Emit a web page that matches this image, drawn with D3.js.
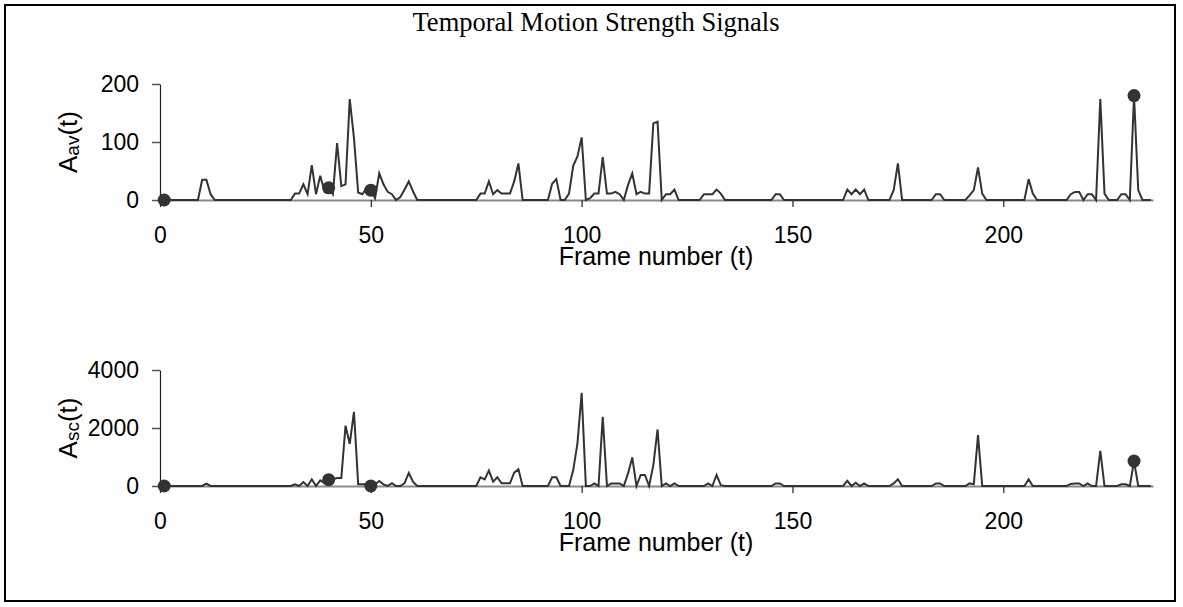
<!DOCTYPE html>
<html>
<head>
<meta charset="utf-8">
<script src="https://cdn.jsdelivr.net/npm/d3@7"></script>
<style>
  html, body { margin: 0; padding: 0; background: #fff; }
  svg { display: block; }
</style>
</head>
<body>
<svg id="chart" width="1183" height="607"></svg>
<script>
// ---- data (frames 1..235) ----
const frames = d3.range(1, 236);

const avValues = [
  0,0,0,0,0,0,0,0,0,
  35,35,10,
  0,0,0,0,0,0,0,0,0,0,0,0,0,0,0,0,0,0,0,
  11,11,27,10,60,10,42,15,21,10,98,24,27,174,107,13,10,21,17,3,46,27,14,10,0,5,18,32,15,
  0,0,0,0,0,0,0,0,0,0,0,0,0,0,0,
  11,11,32,10,17,11,11,11,32,63,
  0,0,0,0,0,0,0,
  28,36,0,0,11,59,75,108,0,3,11,11,74,11,11,14,10,0,26,46,10,14,11,11,132,135,0,10,10,18,
  0,0,0,0,0,0,
  10,10,10,18,11,
  0,0,0,0,0,0,0,0,0,0,0,0,
  10,10,
  0,0,0,0,0,0,0,0,0,0,0,0,0,0,0,
  18,10,18,10,18,
  0,0,0,0,0,0,
  17,63,
  0,0,0,0,0,0,0,0,
  10,10,
  0,0,0,0,0,0,
  8,17,56,11,
  0,0,0,0,0,0,0,0,0,0,
  36,11,
  0,0,0,0,0,0,0,0,
  10,14,14,0,10,10,0,174,11,0,0,0,10,10,0,180,17,0,0,0
];

const scValues = [
  0,0,0,0,0,0,0,0,0,0,
  80,
  0,0,0,0,0,0,0,0,0,0,0,0,0,0,0,0,0,0,0,0,
  57,0,137,0,230,0,194,100,217,230,274,274,2080,1450,2560,57,57,57,0,57,170,57,0,100,0,0,100,450,150,
  0,0,0,0,0,0,0,0,0,0,0,0,0,0,0,
  300,230,530,150,300,92,92,92,460,575,
  0,0,0,0,0,0,0,
  300,300,0,0,0,550,1470,3210,0,0,90,0,2390,0,90,90,90,0,435,986,0,380,380,0,720,1950,0,90,0,90,
  0,0,0,0,0,0,0,
  90,0,380,30,
  0,0,0,0,0,0,0,0,0,0,0,0,
  90,90,
  0,0,0,0,0,0,0,0,0,0,0,0,0,0,0,
  180,0,115,0,90,
  0,0,0,0,0,0,
  90,230,
  0,0,0,0,0,0,0,0,
  90,90,
  0,0,0,0,0,0,
  90,60,1755,
  0,0,0,0,0,0,0,0,0,0,0,
  230,
  0,0,0,0,0,0,0,0,0,
  70,90,90,0,90,0,0,1215,0,0,0,0,60,60,0,860,0,0,0,0
];

const markerFrames = [1, 40, 50, 231];
const xTicks = [0, 50, 100, 150, 200];
const avTicks = [0, 100, 200];
const scTicks = [0, 2000, 4000];

const titleText = "Temporal Motion Strength Signals";
const xLabelText = "Frame number (t)";

// ---- drawing ----
const svg = d3.select("#chart");
const LINE = "#333333";
const SANS = "'Liberation Sans', Arial, sans-serif";

svg.append("rect").attr("x", 5).attr("y", 5).attr("width", 1170).attr("height", 596)
  .attr("fill", "#fff").attr("stroke", "#000").attr("stroke-width", 2);

svg.append("text").attr("x", 596).attr("y", 31).attr("text-anchor", "middle")
  .attr("font-family", "'Liberation Serif', 'Times New Roman', serif").attr("font-size", 26.5)
  .attr("fill", "#000").text(titleText);

const x = d3.scaleLinear().domain([0, 235.5]).range([160, 1153]);

function panel(values, yDomain, yRange, ticks, sub) {
  const y = d3.scaleLinear().domain(yDomain).range(yRange);
  const y0 = y(0);
  const g = svg.append("g");

  // x axis
  const xa = g.append("g").attr("transform", `translate(0,${y0})`)
    .call(d3.axisBottom(x).tickValues(xTicks).tickFormat(d3.format("d"))
      .tickSize(7).tickSizeOuter(0).tickPadding(20));
  xa.select(".domain").attr("stroke", "#8a8a8a").attr("stroke-width", 2);
  xa.selectAll(".tick line").attr("stroke", "#222").attr("stroke-width", 1.2);
  xa.selectAll("text").attr("font-family", SANS).attr("font-size", 23).attr("fill", "#000");

  // y axis
  const ya = g.append("g").attr("transform", `translate(160,0)`)
    .call(d3.axisLeft(y).tickValues(ticks).tickFormat(d3.format("d"))
      .tickSize(8).tickSizeOuter(0).tickPadding(13));
  ya.select(".domain").attr("stroke", "#222").attr("stroke-width", 1.2);
  ya.selectAll(".tick line").attr("stroke", "#555").attr("stroke-width", 1.5);
  ya.selectAll("text").attr("font-family", SANS).attr("font-size", 23).attr("fill", "#000");

  // x label
  g.append("text").attr("x", 656).attr("y", y0 + 65).attr("text-anchor", "middle")
    .attr("font-family", SANS).attr("font-size", 25).attr("fill", "#000").text(xLabelText);

  // y label
  const midY = (yRange[0] + yRange[1]) / 2;
  const yl = g.append("text").attr("transform", `translate(77,${midY}) rotate(-90)`)
    .attr("text-anchor", "middle").attr("font-family", SANS).attr("font-size", 26).attr("fill", "#000");
  yl.append("tspan").text("A");
  yl.append("tspan").attr("font-size", 19).attr("dy", 2).text(sub);
  yl.append("tspan").attr("dy", -2).text("(t)");

  // line
  const line = d3.line().x((d, i) => x(frames[i])).y(d => y(d));
  g.append("path").datum(values).attr("d", line).attr("fill", "none")
    .attr("stroke", LINE).attr("stroke-width", 2).attr("stroke-linejoin", "miter");

  // markers
  g.selectAll("circle").data(markerFrames).enter().append("circle")
    .attr("cx", f => x(f)).attr("cy", f => y(values[f - 1])).attr("r", 6.5).attr("fill", LINE);
}

panel(avValues, [0, 200], [200, 84], avTicks, "av");
panel(scValues, [0, 4000], [486, 370], scTicks, "sc");
</script>
</body>
</html>
